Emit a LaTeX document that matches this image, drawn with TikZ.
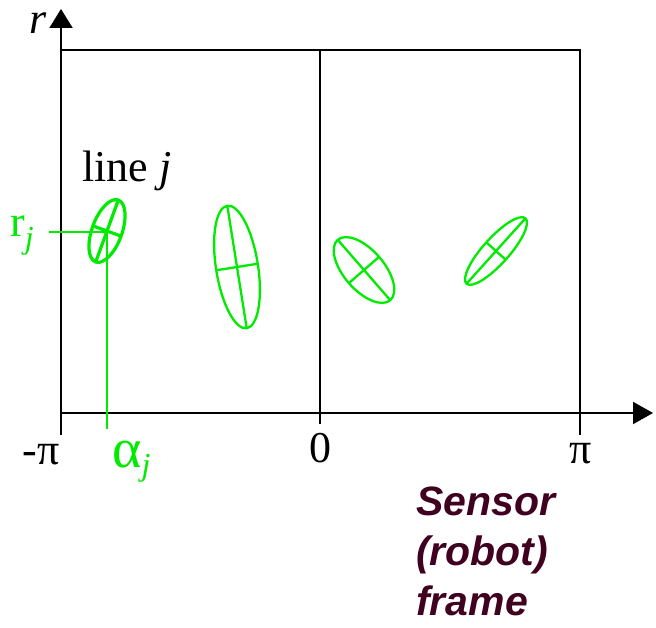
\documentclass[tikz,border=0pt]{standalone}
\usepackage{fontspec}
\setmainfont{Liberation Serif}
\newfontfamily\framefont{Liberation Sans}
\usepackage{xcolor}
\definecolor{ellgreen}{RGB}{0,235,0}
\definecolor{framered}{RGB}{64,0,32}
\usetikzlibrary{arrows.meta}

\begin{document}
\begin{tikzpicture}[x=1pt, y=1pt,
  axisline/.style={line width=2pt, black},
  ellline/.style={ellgreen, line width=2.3pt},
  guide/.style={ellgreen, line width=1.5pt},
  lbl/.style={inner sep=0pt, font=\fontsize{44}{44}\selectfont}]

\useasboundingbox (0,0) rectangle (656,-628);

% Frame of the plane
\draw[axisline] (61,-50) -- (580,-50) -- (580,-435);
\draw[axisline] (320,-50) -- (320,-424);

% Axes
\draw[axisline, -{Triangle[length=19pt,width=23pt]}] (61,-435) -- (61,-9);
\draw[axisline, -{Triangle[length=20pt,width=22pt]}] (61,-413) -- (653,-413);

% Line j (thick ellipse)
\begin{scope}[shift={(107,-231)}, rotate=70]
  \draw[ellline, line width=3.2pt] (0,0) ellipse (33pt and 15pt);
  \draw[ellline, line width=3.2pt] (-33,0) -- (33,0) (0,-15) -- (0,15);
\end{scope}

% Other lines
\foreach \cx/\cy/\ang/\ra/\rb in {237/-267/99/62/21, 364/-270/-49/40/20, 496/-251/48/44/13}{
  \begin{scope}[shift={(\cx,\cy)}, rotate=\ang]
    \draw[ellline] (0,0) ellipse (\ra pt and \rb pt);
    \draw[ellline] (-\ra,0) -- (\ra,0) (0,-\rb) -- (0,\rb);
  \end{scope}
}

% Labels
\node[lbl] (rax) at (38,-23) {\textit{r}};
\node[lbl] (mpi) at (41,-455) {-π};
\node[lbl] (zero) at (320,-448) {0};
\node[lbl] (ppi) at (581,-454) {π};
\node[lbl, anchor=base west] (linej) at (82,-182) {line \textit{j}};
\node[lbl, anchor=base west, text=ellgreen] (rj) at (10,-237)
  {r\raisebox{-12pt}{\fontsize{32}{32}\selectfont\textit{j}}};
\node[lbl, anchor=base west, text=ellgreen] (aj) at (112,-467)
  {{\fontsize{56}{56}\selectfont α}\raisebox{-8pt}{\fontsize{32}{32}\selectfont\textit{j}}};

% Parameters of line j
\coordinate (cj) at (107,-232);
\coordinate (rjend) at (49,-232);
\coordinate (ajend) at (107,-429);
\draw[guide] (rjend) -- (cj) -- (ajend);

% Frame note
\node[font=\framefont\bfseries\itshape\fontsize{41}{50}\selectfont, text=framered,
      anchor=north west, align=left, inner sep=0pt]
      (frame) at (416,-487) {Sensor\\(robot)\\frame};

\end{tikzpicture}
\end{document}
